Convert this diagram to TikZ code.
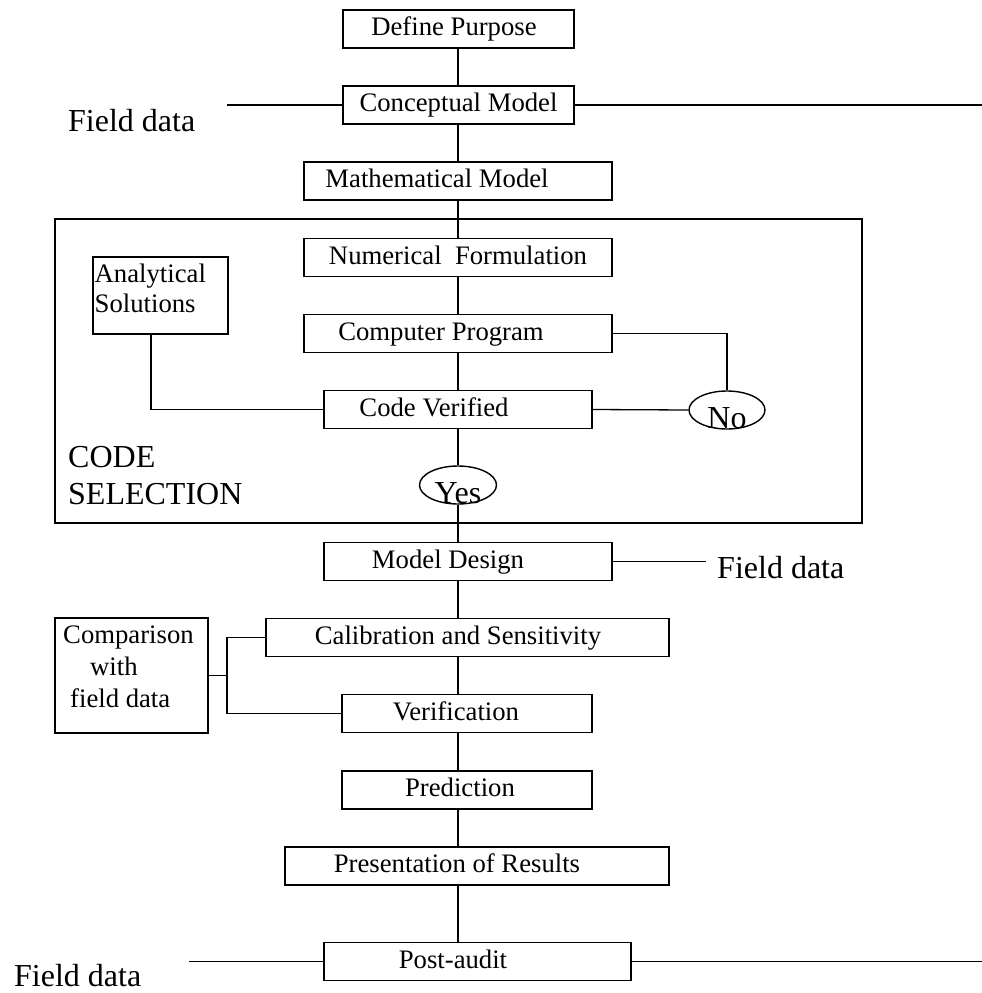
\documentclass[tikz,border=0pt]{standalone}
\usepackage{fontspec}
\setmainfont{Liberation Serif}
\usetikzlibrary{shapes.geometric}
\begin{document}
\begin{tikzpicture}[x=1pt,y=-1pt,
  box/.style={draw,line width=1.6pt,minimum height=38pt,inner sep=0pt,text height=19pt,text depth=6pt,font=\fontsize{26.7}{30}\selectfont},
  plainbox/.style={draw,line width=1.6pt,inner sep=0pt},
  conn/.style={line width=1.3pt},
  oval/.style={draw,ellipse,line width=1.4pt,minimum width=76pt,minimum height=38pt,inner sep=0pt},
  big/.style={font=\fontsize{32}{36}\selectfont,inner sep=0pt},
  small/.style={font=\fontsize{26.7}{30}\selectfont,inner sep=0pt}]
\useasboundingbox (0,0) rectangle (982,993);
\coordinate (spine) at (458,0);
% frame
\node[plainbox,line width=1.8pt,minimum width=807pt,minimum height=304pt] (frame) at (458.5,371) {};
% main boxes
\node[box,minimum width=231pt] (dp) at (458.5,29) {Define Purpose\hspace*{9pt}};
\node[box,minimum width=231pt] (cm) at (458.5,105) {Conceptual Model};
\node[box,minimum width=308pt] (mm) at (458,181) {Mathematical Model\hspace*{42pt}};
\node[box,minimum width=308pt] (nf) at (458,257.5) {Numerical\ \ Formulation};
\node[box,minimum width=308pt] (cp) at (458,333.5) {Computer Program\hspace*{34pt}};
\node[box,minimum width=268pt] (cv) at (458,409.5) {Code Verified\hspace*{48pt}};
\node[plainbox,minimum width=135pt,minimum height=77pt] (as) at (160.5,295.5) {};
\node[small,anchor=north west,align=left] (astxt) at (94.5,264) {Analytical\\Solutions};
\node[oval] (no) at (727,410) {};
\node[big,anchor=base] (notxt) at ([yshift=-18pt]no.center) {No};
\node[oval,minimum width=77pt] (yes) at (458,485) {};
\node[big,anchor=base] (yestxt) at ([yshift=-18pt]yes.center) {Yes};
\node[big,anchor=base west] (code) at (68,467) {CODE};
\node[big,anchor=base west] (sel) at (68,504) {SELECTION};
\node[box,minimum width=288pt] (md) at (468,561.5) {Model Design\hspace*{40pt}};
\node[box,minimum width=403pt] (cs) at (467.5,637.5) {Calibration and Sensitivity\hspace*{19pt}};
\node[plainbox,minimum width=153pt,minimum height=115pt] (cw) at (131.5,675.5) {};
\node[small,anchor=north west,align=left,font=\fontsize{26.7}{32}\selectfont] (cwtxt) at (63,625.5) {Comparison\\\hspace*{27pt}with\\\hspace*{7pt}field data};
\node[box,minimum width=250pt] (ve) at (467,713.5) {Verification\hspace*{22pt}};
\node[box,minimum width=250pt] (pr) at (467,790) {Prediction\hspace*{14pt}};
\node[box,minimum width=384pt] (pres) at (477,866) {Presentation of Results\hspace*{40pt}};
\node[box,minimum width=307pt] (pa) at (477.5,961.5) {Post-audit\hspace*{49pt}};
% field data labels
\node[big,anchor=base west] (fd1) at (68,131) {Field data};
\node[big,anchor=base west] (fd2) at (717,578) {Field data};
\node[big,anchor=base west] (fd3) at (14,986) {Field data};
% free ends
\coordinate (cmL) at (227,105);
\coordinate (cmR) at (982,105);
\coordinate (mdR) at (706,561.5);
\coordinate (paL) at (189,961.5);
\coordinate (paR) at (982,961.5);
\coordinate (brk) at (227,637.5);
% spine
\draw[conn] (dp.south -| spine) -- (cm.north -| spine);
\draw[conn] (cm.south -| spine) -- (mm.north -| spine);
\draw[conn] (mm.south -| spine) -- (nf.north -| spine);
\draw[conn] (nf.south -| spine) -- (cp.north -| spine);
\draw[conn] (cp.south -| spine) -- (cv.north -| spine);
\draw[conn] (cv.south -| spine) -- (yes.north);
\draw[conn] (yes.south) -- (md.north -| spine);
\draw[conn] (md.south -| spine) -- (cs.north -| spine);
\draw[conn] (cs.south -| spine) -- (ve.north -| spine);
\draw[conn] (ve.south -| spine) -- (pr.north -| spine);
\draw[conn] (pr.south -| spine) -- (pres.north -| spine);
\draw[conn] (pres.south -| spine) -- (pa.north -| spine);
% side connectors
\draw[conn] (cmL) -- (cm.west);
\draw[conn] (cm.east) -- (cmR);
\draw[conn] (cp.east) -| (no.north);
\draw[conn] (cv.east) -- (no.west);
\draw[conn] ([xshift=-9.5pt]as.south) |- (cv.west);
\draw[conn] (md.east) -- (mdR);
\draw[conn] (cs.west) -- (brk) |- (ve.west);
\draw[conn] (cw.east) -- (cw.east -| brk);
\draw[conn] (paL) -- (pa.west);
\draw[conn] (pa.east) -- (paR);
\end{tikzpicture}
\end{document}
